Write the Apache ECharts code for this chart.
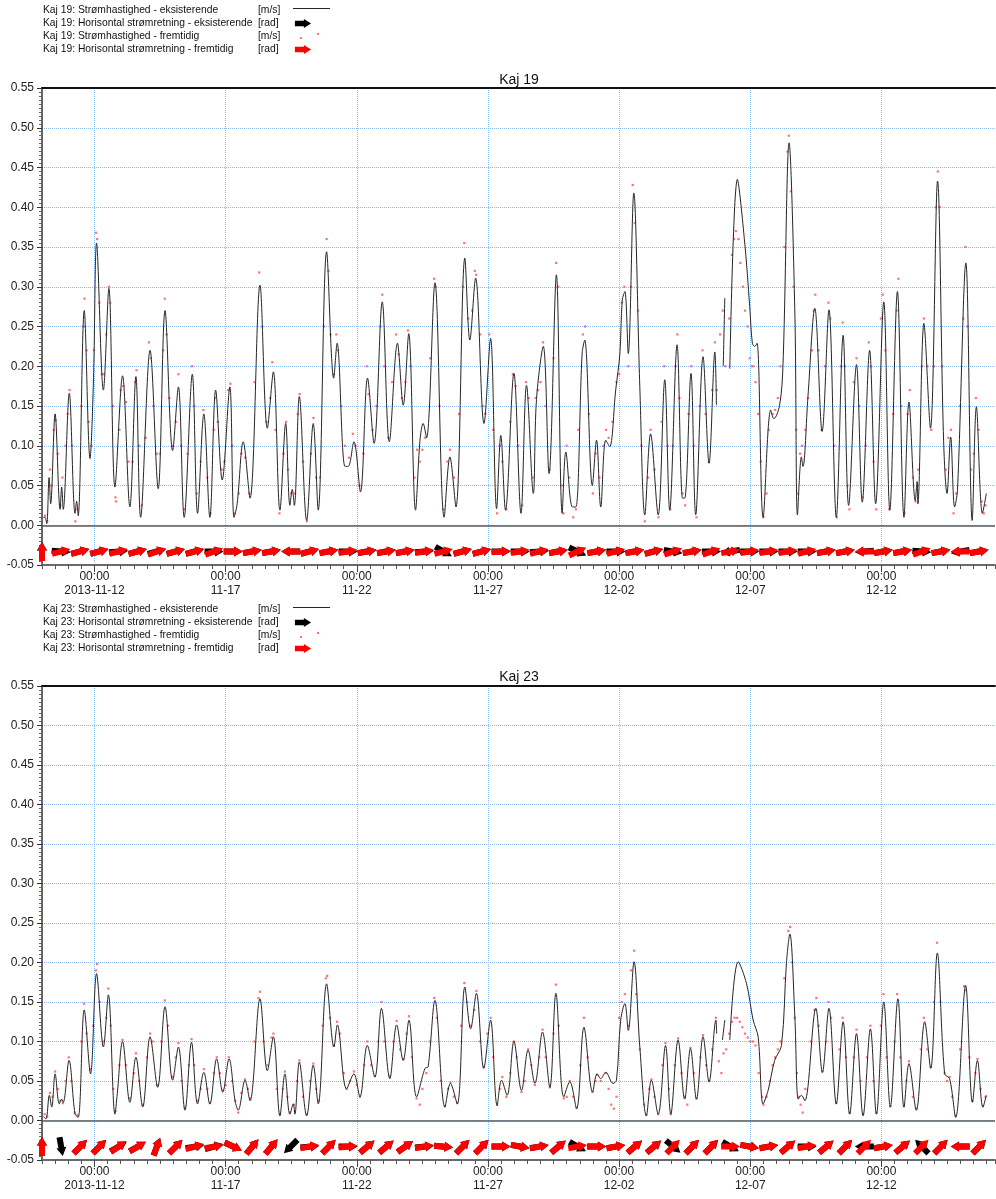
<!DOCTYPE html>
<html>
<head>
<meta charset="utf-8">
<title>Kaj 19 / Kaj 23</title>
<script src="https://cdn.jsdelivr.net/npm/echarts@6/dist/echarts.min.js"></script>
<style>
  html, body { margin: 0; padding: 0; background: #fff; }
  #chart { width: 996px; height: 1199px; }
</style>
</head>
<body>
<div id="chart"></div>
<script>
// x values are days since 2013-11-10 00:00
const dayMax = 36.33
const dateTicks = [2, 7, 12, 17, 22, 27, 32]
const xTickLabels = ['00:00\n2013-11-12', '00:00\n11-17', '00:00\n11-22', '00:00\n11-27', '00:00\n12-02', '00:00\n12-07', '00:00\n12-12']
const units = ['[m/s]', '[rad]', '[m/s]', '[rad]']
const names19 = ['Kaj 19: Strømhastighed - eksisterende', 'Kaj 19: Horisontal strømretning - eksisterende', 'Kaj 19: Strømhastighed - fremtidig', 'Kaj 19: Horisontal strømretning - fremtidig']
const names23 = ['Kaj 23: Strømhastighed - eksisterende', 'Kaj 23: Horisontal strømretning - eksisterende', 'Kaj 23: Strømhastighed - fremtidig', 'Kaj 23: Horisontal strømretning - fremtidig']

// Kaj 19 - existing current speed [day, m/s]
const speed19 = [[0.05,0.01],[0.11,0.01],[0.18,0.002],[0.27,0.06],[0.33,0.027],[0.5,0.14],[0.69,0.02],[0.75,0.048],[0.81,0.02],[1.04,0.166],[1.26,0.015],[1.32,0.03],[1.38,0.012],[1.61,0.27],[1.83,0.084],[1.96,0.18],[2.08,0.355],[2.34,0.17],[2.55,0.298],[2.78,0.048],[3.07,0.188],[3.35,0.023],[3.58,0.187],[3.76,0.01],[4.12,0.22],[4.43,0.046],[4.69,0.27],[4.98,0.094],[5.2,0.174],[5.42,0.01],[5.73,0.19],[5.93,0.015],[6.17,0.14],[6.4,0.01],[6.62,0.17],[6.87,0.057],[7.16,0.174],[7.32,0.01],[7.44,0.027],[7.67,0.105],[7.93,0.034],[8.31,0.302],[8.59,0.122],[8.82,0.193],[9.07,0.019],[9.29,0.128],[9.45,0.025],[9.54,0.045],[9.62,0.025],[9.81,0.162],[10.09,0.006],[10.34,0.128],[10.53,0.019],[10.85,0.344],[11.12,0.185],[11.25,0.229],[11.55,0.074],[11.67,0.074],[11.89,0.105],[12.14,0.042],[12.41,0.185],[12.66,0.103],[12.97,0.281],[13.24,0.105],[13.55,0.229],[13.77,0.151],[13.98,0.241],[14.24,0.019],[14.41,0.107],[14.53,0.128],[14.66,0.11],[14.98,0.305],[15.33,0.01],[15.55,0.086],[15.78,0.023],[16.12,0.336],[16.31,0.233],[16.53,0.311],[16.85,0.128],[17.1,0.235],[17.33,0.021],[17.49,0.113],[17.67,0.019],[17.99,0.191],[18.26,0.015],[18.47,0.176],[18.73,0.04],[18.85,0.158],[19.11,0.225],[19.33,0.065],[19.61,0.315],[19.83,0.015],[19.97,0.092],[20.22,0.023],[20.35,0.023],[20.59,0.216],[20.69,0.233],[20.98,0.05],[21.14,0.107],[21.3,0.023],[21.49,0.107],[21.64,0.099],[21.87,0.17],[22.03,0.216],[22.12,0.283],[22.22,0.294],[22.35,0.216],[22.56,0.418],[22.79,0.174],[22.98,0.013],[23.2,0.115],[23.49,0.013],[23.74,0.183],[23.93,0.019],[24.21,0.227],[24.42,0.034],[24.5,0.034],[24.74,0.191],[24.92,0.013],[25.2,0.212],[25.43,0.078],[25.65,0.218],[25.71,0.151],[25.84,'-'],[25.97,0.2],[26.03,0.286],[26.12,'-'],[26.22,0.197],[26.51,0.435],[26.79,0.355],[26.98,0.275],[27.08,0.229],[27.17,0.225],[27.26,0.229],[27.49,0.01],[27.78,0.145],[27.9,0.134],[28.12,0.151],[28.25,0.204],[28.48,0.481],[28.7,0.267],[28.8,0.013],[28.95,0.086],[29.01,0.074],[29.2,0.162],[29.46,0.273],[29.74,0.118],[30.0,0.271],[30.28,0.01],[30.54,0.239],[30.75,0.025],[31.05,0.202],[31.27,0.029],[31.55,0.22],[31.78,0.027],[32.09,0.281],[32.32,0.019],[32.61,0.294],[32.86,0.01],[33.05,0.155],[33.29,0.031],[33.36,0.055],[33.39,0.027],[33.62,0.254],[33.87,0.122],[34.14,0.433],[34.37,0.107],[34.5,0.04],[34.64,0.111],[34.79,0.023],[34.9,0.044],[35.22,0.33],[35.46,0.006],[35.62,0.149],[35.85,0.015],[36.0,0.04]]

// Kaj 19 - future current speed (dots)
const speed19f = [[0.12,0.012],[0.2,0.005],[0.3,0.07],[0.36,0.05],[0.45,0.12],[0.52,0.132],[0.6,0.09],[0.7,0.025],[0.78,0.06],[0.9,0.1],[0.98,0.14],[1.05,0.17],[1.15,0.1],[1.27,0.005],[1.35,0.02],[1.5,0.15],[1.58,0.25],[1.62,0.285],[1.7,0.22],[1.78,0.13],[1.88,0.1],[1.98,0.22],[2.06,0.368],[2.1,0.36],[2.18,0.28],[2.28,0.19],[2.36,0.19],[2.45,0.24],[2.55,0.3],[2.6,0.28],[2.7,0.15],[2.8,0.035],[2.82,0.03],[2.95,0.12],[3.0,0.17],[3.1,0.175],[3.2,0.155],[3.3,0.08],[3.45,0.08],[3.55,0.18],[3.6,0.195],[3.7,0.1],[3.8,0.025],[3.95,0.11],[4.08,0.23],[4.15,0.21],[4.25,0.15],[4.38,0.09],[4.5,0.09],[4.62,0.22],[4.68,0.285],[4.75,0.24],[4.85,0.16],[4.98,0.1],[5.1,0.13],[5.2,0.19],[5.3,0.1],[5.42,0.02],[5.55,0.09],[5.72,0.2],[5.8,0.15],[5.9,0.04],[6.05,0.08],[6.15,0.145],[6.3,0.06],[6.42,0.015],[6.55,0.12],[6.6,0.16],[6.7,0.13],[6.85,0.07],[6.95,0.08],[7.1,0.17],[7.18,0.178],[7.25,0.1],[7.35,0.015],[7.5,0.04],[7.6,0.09],[7.75,0.085],[7.9,0.04],[8.1,0.18],[8.28,0.318],[8.4,0.25],[8.55,0.13],[8.7,0.16],[8.78,0.205],[8.9,0.12],[9.05,0.015],[9.2,0.09],[9.3,0.13],[9.38,0.07],[9.5,0.04],[9.65,0.04],[9.75,0.14],[9.82,0.165],[9.95,0.08],[10.1,0.005],[10.25,0.09],[10.35,0.135],[10.45,0.06],[10.6,0.06],[10.75,0.25],[10.85,0.36],[10.92,0.32],[11.0,0.24],[11.12,0.19],[11.22,0.24],[11.28,0.22],[11.4,0.15],[11.55,0.1],[11.7,0.085],[11.85,0.115],[11.95,0.1],[12.1,0.05],[12.25,0.09],[12.38,0.2],[12.45,0.165],[12.6,0.12],[12.75,0.15],[12.9,0.25],[12.97,0.29],[13.05,0.2],[13.2,0.11],[13.35,0.18],[13.5,0.24],[13.6,0.215],[13.72,0.16],[13.85,0.18],[13.95,0.245],[14.05,0.2],[14.2,0.06],[14.3,0.095],[14.4,0.08],[14.5,0.095],[14.6,0.11],[14.8,0.21],[14.95,0.31],[15.0,0.3],[15.15,0.15],[15.3,0.02],[15.45,0.08],[15.55,0.095],[15.7,0.06],[15.9,0.14],[16.05,0.3],[16.1,0.355],[16.25,0.26],[16.4,0.27],[16.5,0.32],[16.55,0.315],[16.7,0.24],[16.8,0.15],[16.9,0.14],[17.05,0.24],[17.2,0.12],[17.35,0.015],[17.45,0.1],[17.55,0.08],[17.7,0.02],[17.85,0.13],[17.95,0.19],[18.05,0.175],[18.15,0.1],[18.3,0.025],[18.45,0.18],[18.55,0.16],[18.7,0.06],[18.82,0.16],[18.9,0.17],[19.0,0.18],[19.1,0.23],[19.2,0.15],[19.35,0.07],[19.5,0.21],[19.6,0.33],[19.68,0.3],[19.8,0.05],[19.88,0.015],[20.0,0.1],[20.1,0.06],[20.25,0.01],[20.35,0.02],[20.45,0.12],[20.62,0.24],[20.7,0.25],[20.85,0.14],[21.0,0.04],[21.1,0.09],[21.25,0.06],[21.4,0.1],[21.5,0.12],[21.6,0.11],[21.75,0.13],[21.9,0.18],[22.0,0.19],[22.1,0.28],[22.2,0.3],[22.35,0.2],[22.45,0.3],[22.52,0.428],[22.6,0.38],[22.72,0.27],[22.85,0.1],[22.98,0.005],[23.1,0.06],[23.2,0.12],[23.35,0.07],[23.5,0.01],[23.62,0.13],[23.72,0.2],[23.85,0.1],[23.95,0.02],[24.05,0.1],[24.15,0.2],[24.22,0.24],[24.3,0.16],[24.42,0.04],[24.52,0.025],[24.65,0.14],[24.75,0.2],[24.85,0.1],[24.95,0.01],[25.08,0.15],[25.18,0.22],[25.3,0.14],[25.42,0.08],[25.55,0.17],[25.65,0.23],[25.72,0.17],[25.85,0.24],[25.95,0.27],[26.05,0.2],[26.2,0.26],[26.3,0.34],[26.38,0.36],[26.45,0.37],[26.55,0.36],[26.62,0.33],[26.72,0.3],[26.8,0.27],[26.9,0.25],[26.98,0.21],[27.05,0.2],[27.12,0.2],[27.2,0.18],[27.3,0.14],[27.4,0.08],[27.5,0.01],[27.62,0.04],[27.7,0.12],[27.85,0.14],[27.95,0.145],[28.05,0.16],[28.15,0.2],[28.3,0.35],[28.42,0.47],[28.47,0.49],[28.55,0.42],[28.65,0.3],[28.75,0.12],[28.82,0.04],[28.9,0.09],[28.98,0.1],[29.1,0.12],[29.2,0.16],[29.35,0.22],[29.42,0.27],[29.48,0.29],[29.6,0.22],[29.72,0.12],[29.85,0.2],[29.98,0.28],[30.05,0.26],[30.2,0.1],[30.3,0.01],[30.45,0.2],[30.52,0.255],[30.6,0.2],[30.7,0.05],[30.78,0.02],[30.95,0.18],[31.05,0.21],[31.15,0.15],[31.28,0.035],[31.4,0.1],[31.52,0.23],[31.6,0.2],[31.7,0.08],[31.8,0.02],[31.98,0.26],[32.05,0.29],[32.15,0.22],[32.3,0.02],[32.45,0.14],[32.58,0.27],[32.65,0.31],[32.75,0.15],[32.88,0.015],[33.0,0.14],[33.08,0.17],[33.2,0.06],[33.3,0.03],[33.4,0.07],[33.55,0.2],[33.62,0.26],[33.75,0.2],[33.9,0.12],[34.0,0.2],[34.08,0.4],[34.15,0.445],[34.22,0.4],[34.32,0.2],[34.45,0.07],[34.55,0.11],[34.65,0.12],[34.75,0.015],[34.85,0.04],[35.0,0.15],[35.12,0.26],[35.2,0.35],[35.28,0.25],[35.42,0.07],[35.52,0.09],[35.6,0.16],[35.7,0.12],[35.82,0.03],[35.9,0.015],[35.97,0.025]]

// Kaj 23 - existing current speed
const speed23 = [[0.05,0.005],[0.15,0.002],[0.28,0.032],[0.37,0.017],[0.5,0.059],[0.66,0.021],[0.75,0.027],[0.81,0.023],[1.03,0.076],[1.26,0.008],[1.38,0.004],[1.61,0.14],[1.85,0.059],[2.08,0.186],[2.34,0.093],[2.53,0.159],[2.78,0.008],[2.87,0.034],[3.07,0.1],[3.35,0.023],[3.58,0.08],[3.84,0.017],[4.12,0.106],[4.41,0.042],[4.69,0.144],[4.98,0.051],[5.2,0.093],[5.45,0.013],[5.7,0.099],[5.93,0.021],[6.17,0.061],[6.4,0.021],[6.66,0.078],[6.89,0.036],[7.13,0.078],[7.36,0.025],[7.48,0.013],[7.74,0.051],[7.93,0.025],[8.31,0.154],[8.59,0.063],[8.82,0.106],[9.07,0.006],[9.26,0.059],[9.45,0.008],[9.58,0.021],[9.64,0.008],[9.81,0.074],[10.09,0.006],[10.34,0.07],[10.53,0.021],[10.85,0.173],[11.13,0.093],[11.26,0.121],[11.61,0.04],[11.89,0.059],[12.12,0.03],[12.4,0.095],[12.69,0.055],[12.94,0.142],[13.26,0.053],[13.52,0.121],[13.77,0.076],[13.99,0.127],[14.28,0.03],[14.6,0.066],[14.72,0.068],[14.98,0.152],[15.36,0.017],[15.57,0.047],[15.83,0.021],[16.12,0.169],[16.34,0.116],[16.56,0.161],[16.84,0.066],[17.1,0.127],[17.35,0.019],[17.52,0.051],[17.73,0.032],[17.99,0.1],[18.28,0.038],[18.53,0.089],[18.79,0.047],[19.08,0.112],[19.36,0.042],[19.59,0.161],[19.89,0.03],[20.12,0.049],[20.38,0.015],[20.66,0.118],[20.99,0.036],[21.16,0.059],[21.3,0.053],[21.49,0.061],[21.77,0.047],[21.9,0.051],[22.06,0.127],[22.22,0.148],[22.35,0.114],[22.57,0.201],[22.79,0.093],[23.04,0.006],[23.23,0.051],[23.49,0.008],[23.77,0.095],[23.97,0.008],[24.25,0.102],[24.5,0.027],[24.72,0.091],[24.95,0.027],[25.2,0.106],[25.43,0.049],[25.69,0.127],[25.72,0.11],[25.83,'-'],[25.94,0.102],[26.03,0.127],[26.12,'-'],[26.22,0.102],[26.54,0.201],[26.86,0.173],[27.11,0.127],[27.3,0.106],[27.49,0.021],[27.68,0.038],[27.93,0.076],[28.19,0.095],[28.38,0.2],[28.51,0.236],[28.7,0.131],[28.83,0.027],[28.95,0.032],[29.08,0.025],[29.5,0.142],[29.75,0.061],[30.0,0.142],[30.28,0.021],[30.54,0.125],[30.79,0.008],[31.05,0.11],[31.3,0.006],[31.58,0.116],[31.81,0.008],[32.09,0.15],[32.34,0.017],[32.63,0.154],[32.86,0.017],[33.05,0.072],[33.33,0.013],[33.65,0.125],[33.88,0.066],[34.13,0.212],[34.41,0.059],[34.6,0.053],[34.83,0.004],[35.21,0.171],[35.47,0.023],[35.66,0.076],[35.87,0.017],[36.0,0.032]]

// Kaj 23 - future current speed (dots)
const speed23f = [[0.1,0.008],[0.2,0.005],[0.3,0.035],[0.4,0.03],[0.5,0.062],[0.6,0.04],[0.7,0.025],[0.8,0.022],[0.9,0.05],[1.02,0.08],[1.12,0.05],[1.25,0.01],[1.35,0.007],[1.5,0.1],[1.6,0.148],[1.7,0.11],[1.85,0.065],[1.95,0.12],[2.05,0.19],[2.1,0.198],[2.2,0.15],[2.32,0.1],[2.45,0.13],[2.53,0.167],[2.62,0.12],[2.72,0.04],[2.8,0.012],[2.95,0.07],[3.07,0.102],[3.2,0.07],[3.35,0.028],[3.5,0.06],[3.58,0.085],[3.7,0.05],[3.85,0.02],[4.0,0.08],[4.12,0.11],[4.22,0.1],[4.4,0.045],[4.55,0.1],[4.68,0.152],[4.8,0.12],[4.97,0.055],[5.1,0.08],[5.2,0.098],[5.32,0.05],[5.45,0.016],[5.6,0.07],[5.7,0.103],[5.8,0.07],[5.93,0.025],[6.05,0.04],[6.17,0.065],[6.3,0.04],[6.4,0.022],[6.55,0.06],[6.66,0.08],[6.78,0.06],[6.9,0.038],[7.0,0.045],[7.12,0.08],[7.25,0.05],[7.36,0.025],[7.48,0.01],[7.6,0.035],[7.74,0.052],[7.85,0.04],[7.93,0.028],[8.1,0.1],[8.25,0.155],[8.31,0.163],[8.45,0.1],[8.6,0.07],[8.75,0.105],[8.82,0.11],[8.95,0.04],[9.07,0.008],[9.18,0.04],[9.26,0.062],[9.35,0.03],[9.45,0.01],[9.6,0.02],[9.72,0.05],[9.81,0.076],[9.95,0.03],[10.09,0.008],[10.22,0.05],[10.34,0.072],[10.45,0.04],[10.55,0.025],[10.7,0.12],[10.82,0.18],[10.87,0.183],[10.98,0.13],[11.12,0.095],[11.25,0.125],[11.35,0.11],[11.5,0.06],[11.61,0.04],[11.75,0.05],[11.89,0.062],[12.0,0.045],[12.12,0.03],[12.28,0.07],[12.4,0.1],[12.55,0.07],[12.69,0.056],[12.82,0.1],[12.94,0.15],[13.05,0.1],[13.26,0.056],[13.4,0.1],[13.52,0.126],[13.65,0.09],[13.77,0.078],[13.9,0.11],[13.99,0.132],[14.1,0.08],[14.28,0.028],[14.4,0.02],[14.5,0.04],[14.65,0.06],[14.8,0.1],[14.95,0.155],[15.05,0.13],[15.2,0.05],[15.36,0.018],[15.48,0.04],[15.57,0.048],[15.7,0.03],[15.83,0.022],[15.98,0.12],[16.1,0.174],[16.2,0.15],[16.34,0.12],[16.48,0.14],[16.56,0.164],[16.7,0.1],[16.84,0.068],[16.98,0.11],[17.1,0.13],[17.2,0.08],[17.35,0.02],[17.45,0.04],[17.55,0.055],[17.7,0.03],[17.85,0.06],[17.99,0.1],[18.1,0.08],[18.28,0.036],[18.4,0.05],[18.53,0.09],[18.65,0.07],[18.79,0.045],[18.95,0.08],[19.08,0.115],[19.2,0.08],[19.36,0.042],[19.5,0.11],[19.59,0.172],[19.7,0.12],[19.89,0.028],[20.0,0.03],[20.12,0.05],[20.25,0.03],[20.38,0.016],[20.52,0.07],[20.66,0.13],[20.8,0.08],[20.99,0.036],[21.1,0.05],[21.16,0.058],[21.3,0.05],[21.49,0.06],[21.6,0.04],[21.7,0.02],[21.8,0.015],[21.9,0.03],[22.0,0.13],[22.1,0.15],[22.22,0.16],[22.35,0.12],[22.45,0.19],[22.57,0.215],[22.65,0.16],[22.79,0.09],[22.95,0.02],[23.04,0.007],[23.15,0.04],[23.23,0.052],[23.35,0.03],[23.49,0.008],[23.65,0.07],[23.77,0.098],[23.9,0.04],[23.97,0.008],[24.12,0.07],[24.25,0.104],[24.38,0.06],[24.5,0.03],[24.6,0.02],[24.72,0.092],[24.85,0.06],[24.95,0.028],[25.1,0.08],[25.2,0.108],[25.32,0.07],[25.43,0.05],[25.55,0.09],[25.69,0.13],[25.8,0.075],[25.9,0.06],[25.98,0.085],[26.08,0.09],[26.2,0.11],[26.3,0.125],[26.4,0.13],[26.5,0.13],[26.6,0.125],[26.7,0.118],[26.8,0.11],[26.9,0.105],[27.0,0.1],[27.1,0.1],[27.2,0.095],[27.32,0.06],[27.45,0.03],[27.5,0.02],[27.62,0.03],[27.75,0.05],[27.85,0.07],[27.95,0.08],[28.05,0.09],[28.15,0.1],[28.3,0.18],[28.45,0.24],[28.52,0.245],[28.6,0.2],[28.7,0.13],[28.78,0.06],[28.85,0.03],[28.92,0.02],[29.0,0.01],[29.1,0.04],[29.3,0.1],[29.45,0.14],[29.52,0.155],[29.6,0.12],[29.75,0.062],[29.9,0.1],[29.98,0.15],[30.08,0.13],[30.28,0.022],[30.4,0.09],[30.52,0.13],[30.65,0.08],[30.79,0.01],[30.95,0.08],[31.05,0.115],[31.2,0.05],[31.3,0.008],[31.45,0.08],[31.58,0.12],[31.7,0.05],[31.81,0.01],[31.98,0.12],[32.08,0.16],[32.2,0.08],[32.34,0.018],[32.5,0.1],[32.6,0.16],[32.72,0.08],[32.86,0.018],[32.95,0.05],[33.05,0.075],[33.2,0.03],[33.33,0.015],[33.5,0.09],[33.62,0.13],[33.75,0.09],[33.88,0.068],[34.0,0.15],[34.12,0.225],[34.25,0.15],[34.41,0.06],[34.5,0.05],[34.6,0.055],[34.7,0.03],[34.83,0.006],[35.0,0.09],[35.15,0.17],[35.22,0.165],[35.35,0.08],[35.47,0.025],[35.58,0.06],[35.66,0.078],[35.78,0.04],[35.87,0.018],[35.97,0.03]]

// current direction arrows: time [day] and angle [deg, counter-clockwise from east]
const arrowDays = [0,0.73,1.46,2.19,2.92,3.65,4.38,5.1,5.83,6.56,7.29,8.02,8.75,9.48,10.21,10.94,11.67,12.4,13.13,13.85,14.58,15.31,16.04,16.77,17.5,18.23,18.96,19.69,20.42,21.15,21.88,22.6,23.33,24.06,24.79,25.52,26.25,26.98,27.71,28.44,29.17,29.9,30.63,31.35,32.08,32.81,33.54,34.27,35.0,35.73]
const dir19 = [90,-5,15,15,5,15,15,15,15,0,0,10,10,180,15,10,0,10,10,10,5,-30,15,15,0,0,5,10,-25,10,0,10,15,-10,10,0,190,0,0,0,0,10,10,185,10,10,-5,10,190,10]
const dir19f = [90,15,15,15,15,15,20,15,15,20,0,10,10,180,15,10,10,10,10,10,10,15,15,15,5,10,15,10,25,10,15,10,15,20,10,20,10,10,10,10,15,10,10,180,10,10,20,10,180,10]
const dir23 = [90,-80,45,45,30,30,70,45,10,15,-25,50,50,225,5,45,0,40,40,35,5,-5,45,45,0,-10,10,40,-30,0,10,40,40,-40,45,45,-30,-10,10,40,0,40,45,180,10,40,135,45,180,45]
const dir23f = [90,'-',45,45,35,30,70,45,15,10,-25,50,50,'-',10,45,5,40,40,35,10,-5,45,45,0,-10,10,40,10,0,10,40,40,45,45,45,0,-10,10,40,10,40,45,45,10,40,45,45,180,45]
const arrowLevel = -0.033

const arrowSymbol = 'path://M0,2L10,2L10,0L18,5L10,10L10,8L0,8Z'
// legend icons carry an empty point at the far corner so they sit at the left of the icon box
const lineIcon = 'path://M0,4h37v1h-37zM38,9'
const arrowIcon = 'path://M0,2L10,2L10,0L18,5L10,10L10,8L0,8ZM38,10'
const dotsIcon = 'path://M7,5h2v2h-2zM24,1h2v2h-2zM0,0M38,9'
const gridBlue = '#8dbdf2'
const font = 'Liberation Sans, Arial'

const chart = echarts.init(document.getElementById('chart'))

function arrowData(dirs) {
  return arrowDays.map((d, i) => [d, arrowLevel, dirs[i]]).filter(p => p[2] !== '-')
}

function xLabel(v) {
  const i = dateTicks.findIndex(t => Math.abs(t - v) < 1e-6)
  return i < 0 ? '' : xTickLabels[i]
}

function xAxes(gi) {
  return [
    /* half-day minor ticks + bottom axis line */
    {
      gridIndex: gi, type: 'value', min: 0, max: dayMax, interval: 0.5, position: 'bottom',
      axisLine: { onZero: false, lineStyle: { color: '#6a6a6a', width: 2 } },
      axisTick: { length: 4, lineStyle: { color: '#555' } },
      axisLabel: { show: false },
      splitLine: { show: false }
    },
    /* date labels and vertical grid */
    {
      gridIndex: gi, type: 'value', min: 0, max: dayMax, position: 'bottom',
      axisLine: { show: false, onZero: false },
      axisTick: { customValues: dateTicks, length: 7, lineStyle: { color: '#444' } },
      axisLabel: { customValues: dateTicks, formatter: xLabel, fontSize: 12, lineHeight: 14, margin: 5, color: '#222', fontFamily: font },
      splitLine: { show: true, lineStyle: { type: 'dotted', color: gridBlue, width: 1 } }
    },
    /* top frame */
    {
      gridIndex: gi, type: 'value', min: 0, max: dayMax, position: 'top',
      axisLine: { onZero: false, lineStyle: { color: '#111', width: 2 } },
      axisTick: { show: false }, axisLabel: { show: false }, splitLine: { show: false }
    }
  ]
}

function yAxis(gi) {
  return {
    gridIndex: gi, type: 'value', min: -0.05, max: 0.55, interval: 0.05,
    axisLine: { show: true, lineStyle: { color: '#333', width: 1.5 } },
    axisTick: { show: true, length: 5, lineStyle: { color: '#333' } },
    minorTick: { show: true, splitNumber: 10, length: 3, lineStyle: { color: '#666' } },
    axisLabel: { formatter: v => v.toFixed(2), fontSize: 12, color: '#222', margin: 8, fontFamily: font },
    splitLine: { lineStyle: { type: 'dotted', color: gridBlue, width: 1 } }
  }
}

function legend(names, top) {
  return {
    orient: 'vertical', left: 43, top: top, padding: 0, itemGap: 0,
    itemWidth: 38, itemHeight: 9, align: 'right', selectedMode: false,
    data: [
      { name: names[0], icon: lineIcon },
      { name: names[1], icon: arrowIcon },
      { name: names[2], icon: dotsIcon },
      { name: names[3], icon: arrowIcon }
    ],
    formatter: name => '{n|' + name + '}{u|' + units[names.indexOf(name)] + '}',
    textStyle: {
      fontSize: 10.3, color: '#111', fontFamily: font, lineHeight: 13,
      rich: {
        n: { width: 215, align: 'left', fontSize: 10.3, fontFamily: font, color: '#111' },
        u: { width: 30, align: 'left', fontSize: 10.3, fontFamily: font, color: '#111' }
      }
    }
  }
}

function panelSeries(names, gi, line, dots, dirs, dirsF) {
  const xi = gi * 3
  return [
    {
      name: names[0], type: 'line', xAxisIndex: xi, yAxisIndex: gi, data: line,
      symbol: 'none', smooth: 0.35, connectNulls: false,
      lineStyle: { color: '#262626', width: 1 }, itemStyle: { color: '#262626' },
      markLine: {
        silent: true, symbol: ['none', 'none'], label: { show: false },
        lineStyle: { color: '#5a5a5a', width: 1.5, type: 'solid' },
        data: [{ yAxis: 0 }]
      }
    },
    {
      name: names[2], type: 'scatter', xAxisIndex: xi, yAxisIndex: gi, data: dots,
      symbol: 'rect', symbolSize: 2.2,
      itemStyle: { color: '#ff5a5a', opacity: 0.85 }
    },
    {
      name: names[1], type: 'scatter', xAxisIndex: xi, yAxisIndex: gi, data: arrowData(dirs),
      symbol: arrowSymbol, symbolSize: [19, 10], symbolKeepAspect: false,
      symbolRotate: v => v[2], itemStyle: { color: '#000', opacity: 1 }
    },
    {
      name: names[3], type: 'scatter', xAxisIndex: xi, yAxisIndex: gi, data: arrowData(dirsF),
      symbol: arrowSymbol, symbolSize: [19, 10], symbolKeepAspect: false,
      symbolRotate: v => v[2], itemStyle: { color: '#ff0000', opacity: 1 }
    }
  ]
}

chart.setOption({
  animation: false,
  backgroundColor: '#fff',
  textStyle: { fontFamily: font },
  title: [
    { text: 'Kaj 19', left: 514, top: 68, textAlign: 'center', textStyle: { fontSize: 14, fontWeight: 'normal', color: '#111', fontFamily: font } },
    { text: 'Kaj 23', left: 514, top: 665, textAlign: 'center', textStyle: { fontSize: 14, fontWeight: 'normal', color: '#111', fontFamily: font } }
  ],
  legend: [legend(names19, 4), legend(names23, 603)],
  grid: [
    { left: 42, right: 1, top: 88, bottom: 634 },
    { left: 42, right: 1, top: 686, bottom: 39 }
  ],
  xAxis: xAxes(0).concat(xAxes(1)),
  yAxis: [yAxis(0), yAxis(1)],
  series: panelSeries(names19, 0, speed19, speed19f, dir19, dir19f)
    .concat(panelSeries(names23, 1, speed23, speed23f, dir23, dir23f))
})
</script>
</body>
</html>
